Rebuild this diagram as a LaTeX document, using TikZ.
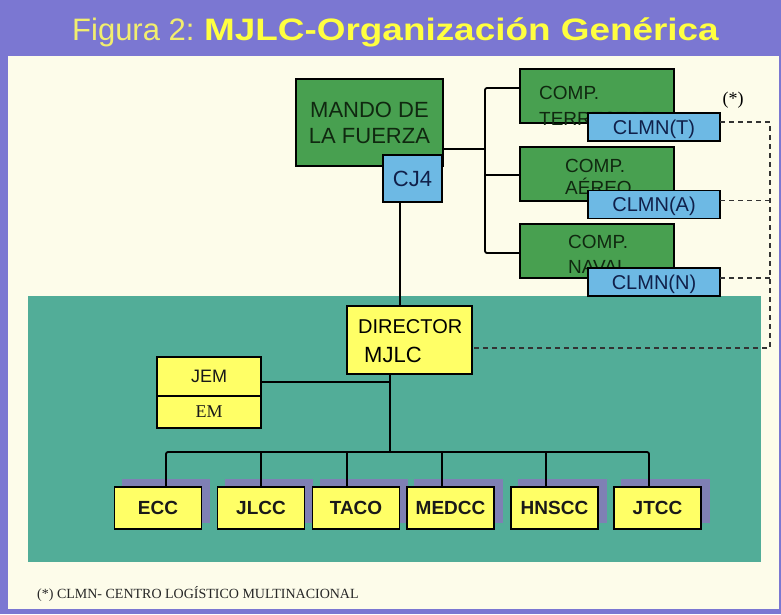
\documentclass[tikz,border=0pt]{standalone}
\usepackage{fontspec}
\setmainfont{Liberation Sans}
\newfontfamily\serifface{Liberation Serif}
\usetikzlibrary{shadows}

\definecolor{framepurple}{HTML}{7B77D2}
\definecolor{paper}{HTML}{FDFCEA}
\definecolor{basin}{HTML}{52AD98}
\definecolor{boxgreen}{HTML}{48A050}
\definecolor{boxblue}{HTML}{6DB9E4}
\definecolor{boxyellow}{HTML}{FFFF66}
\definecolor{shade}{HTML}{7F80B4}
\definecolor{titleyellow}{HTML}{F2EE6E}
\definecolor{titlebold}{HTML}{FFFF40}
\definecolor{greentext}{HTML}{102810}
\definecolor{bluetext}{HTML}{10204A}

\begin{document}
\begin{tikzpicture}[x=1pt,y=-1pt,
  frame/.style={draw=black, line width=1.4pt, inner sep=0pt, outer sep=0pt},
  greenbox/.style={frame, fill=boxgreen, text=greentext},
  bluebox/.style={frame, fill=boxblue, text=bluetext, text depth=0pt,
    font=\fontsize{20}{24}\selectfont},
  yellowbox/.style={frame, fill=boxyellow, text=black!90},
  unitbox/.style={yellowbox, minimum width=87pt, minimum height=42pt,
    font=\bfseries\fontsize{19}{23}\selectfont,
    drop shadow={shadow xshift=8pt, shadow yshift=7pt, fill=shade, draw=shade, opacity=1}},
  compbox/.style={greenbox, minimum width=154pt, minimum height=54pt},
  clmnbox/.style={bluebox, minimum width=132pt, minimum height=28pt},
  txt/.style={inner sep=0pt, anchor=base west},
  comptxt/.style={txt, text=greentext, font=\fontsize{19}{23}\selectfont},
  conn/.style={line width=1.8pt, draw=black, rounded corners=2pt},
  link/.style={line width=1.2pt, draw=black!80, dash pattern=on 5pt off 4pt},
]
\useasboundingbox (0,0) rectangle (781,614);

% frame, paper and the shaded organisation area
\fill[framepurple] (0,0) rectangle (781,614);
\fill[paper] (8,56) rectangle (779,609);
\fill[basin] (28,296) rectangle (761,562);

% heading
\node[txt, text=titleyellow, font=\fontsize{31}{36}\selectfont] (figlabel) at (72,40) {Figura 2:};
\node[txt, text=titlebold, font=\bfseries\fontsize{31}{36}\selectfont] (figtitle) at (204,40)
  {\scalebox{1.19}[1]{MJLC-Organización Genérica}};

% force command
\node[greenbox, minimum width=147pt, minimum height=87pt, align=center,
  font=\fontsize{22}{26}\selectfont] (mando) at (369.5,122.5) {MANDO DE\\LA FUERZA};
\node[bluebox, minimum width=59pt, minimum height=47pt,
  font=\fontsize{22}{26}\selectfont] (cj4) at (412.5,178.5) {CJ4};

% components and their logistic centres
\node[compbox] (terr) at (597,96) {};
\node[comptxt] (terrA) at (539,99) {COMP.};
\node[comptxt] (terrB) at (539,125) {TERRESTRE};
\node[clmnbox] (clmnT) at (654,127) {CLMN(T)};

\node[compbox] (aereo) at (597,174) {};
\node[comptxt] (aereoA) at (565,172) {COMP.};
\node[comptxt] (aereoB) at (565,194) {AÉREO};
\node[clmnbox] (clmnA) at (654,204.5) {CLMN(A)};

\node[compbox] (naval) at (597,251) {};
\node[comptxt] (navalA) at (568,248) {COMP.};
\node[comptxt] (navalB) at (568,273) {NAVAL};
\node[clmnbox] (clmnN) at (654,282) {CLMN(N)};

\node[inner sep=0pt, anchor=base, font=\serifface\fontsize{18}{20}\selectfont] (note) at (733,104) {(*)};

% joint logistic component
\node[yellowbox, minimum width=125pt, minimum height=68pt] (director) at (409.5,340) {};
\node[txt, font=\fontsize{20}{24}\selectfont] (dirA) at (358,333) {DIRECTOR};
\node[txt, font=\fontsize{22}{26}\selectfont] (dirB) at (364,362) {MJLC};

\node[yellowbox, minimum width=104pt, minimum height=39pt,
  font=\fontsize{18}{22}\selectfont] (jem) at (209,376.5) {JEM};
\node[yellowbox, minimum width=104pt, minimum height=32pt,
  font=\serifface\fontsize{18}{22}\selectfont] (em) at (209,412) {EM};

\node[unitbox] (ecc)   at (158,508)   {ECC};
\node[unitbox] (jlcc)  at (261,508)   {JLCC};
\node[unitbox] (taco)  at (356,508)   {TACO};
\node[unitbox] (medcc) at (450.5,508) {MEDCC};
\node[unitbox] (hnscc) at (554.5,508) {HNSCC};
\node[unitbox] (jtcc)  at (657.5,508) {JTCC};

% command lines
\coordinate (trunk) at (485,149);
\coordinate (bT) at (485,88);
\coordinate (bA) at (485,175);
\coordinate (bN) at (485,253);
\draw[conn] (mando.east |- trunk) -- (trunk);
\draw[conn] (terr.west |- bT) -- (bT) -- (bN) -- (naval.west |- bN);
\draw[conn] (bA) -- (aereo.west |- bA);

\coordinate (v1) at (400,0);
\draw[conn] (cj4.south -| v1) -- (director.north -| v1);

\coordinate (bus) at (390,452);
\coordinate (jemjoin) at (390,382);
\draw[conn] (director.south -| bus) -- (bus);
\draw[conn] (jem.east |- jemjoin) -- (jemjoin);

\coordinate (d1) at (166,452);
\coordinate (d2) at (261,452);
\coordinate (d3) at (347,452);
\coordinate (d4) at (442,452);
\coordinate (d5) at (546,452);
\coordinate (d6) at (649,452);
\draw[conn] (ecc.north -| d1) -- (d1) -- (d6) -- (jtcc.north -| d6);
\draw[conn] (d2) -- (jlcc.north -| d2);
\draw[conn] (d3) -- (taco.north -| d3);
\draw[conn] (d4) -- (medcc.north -| d4);
\draw[conn] (d5) -- (hnscc.north -| d5);

% dashed logistic links
\coordinate (dc) at (770,348);
\coordinate (tT) at ([yshift=5pt]clmnT.east);
\coordinate (tA) at ([yshift=4pt]clmnA.east);
\coordinate (tN) at ([yshift=4pt]clmnN.east);
\draw[link] (tT) -| (dc) -- (director.east |- dc);
\draw[link] (tA) -- (tA -| dc);
\draw[link] (tN) -- (tN -| dc);

% footnote
\node[txt, text=black!85, font=\serifface\fontsize{14}{16}\selectfont] (footnote) at (37,598)
  {(*) CLMN- CENTRO LOGÍSTICO MULTINACIONAL};
\end{tikzpicture}
\end{document}
